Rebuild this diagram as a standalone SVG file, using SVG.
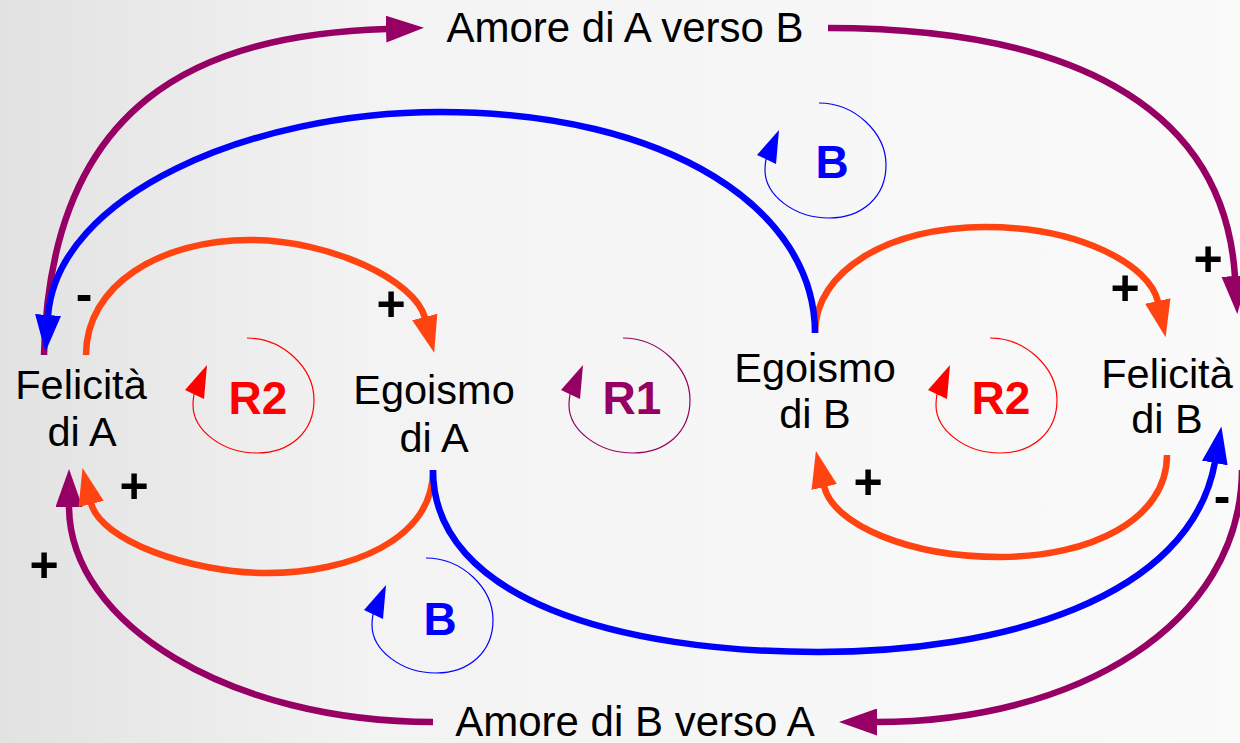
<svg xmlns="http://www.w3.org/2000/svg" xmlns:xlink="http://www.w3.org/1999/xlink" width="1240" height="743" viewBox="0 0 1240 743">
<style>
.node{font-family:"Liberation Sans",Arial,sans-serif;font-size:41.5px;fill:#000;text-anchor:middle}
.title{font-family:"Liberation Sans",Arial,sans-serif;font-size:42px;fill:#000;text-anchor:middle}
.loopl{font-family:"Liberation Sans",Arial,sans-serif;font-size:46px;font-weight:bold;text-anchor:middle}
.sign{font-family:"Liberation Sans",Arial,sans-serif;font-size:50px;font-weight:bold;fill:#000;text-anchor:middle;dominant-baseline:central}
.c{fill:none;stroke-width:6.5;stroke-linecap:butt}
.or{stroke:#ff4411}
.bl{stroke:#0000ff}
.pu{stroke:#960064}
</style>
<defs>
<linearGradient id="bg" x1="0" y1="0" x2="1" y2="0">
<stop offset="0" stop-color="#e2e2e2"/>
<stop offset="0.3" stop-color="#f3f3f3"/>
<stop offset="1" stop-color="#fafafa"/>
</linearGradient>
<marker id="ao" viewBox="0 0 37 26" refX="1" refY="13" markerWidth="37" markerHeight="26" markerUnits="userSpaceOnUse" orient="auto"><path d="M0,0 L37,13 L0,26 z" fill="#ff4411"/></marker>
<marker id="ab" viewBox="0 0 37 26" refX="1" refY="13" markerWidth="37" markerHeight="26" markerUnits="userSpaceOnUse" orient="auto"><path d="M0,0 L37,13 L0,26 z" fill="#0000ff"/></marker>
<marker id="ap" viewBox="0 0 38 27" refX="1" refY="13.5" markerWidth="38" markerHeight="27" markerUnits="userSpaceOnUse" orient="auto"><path d="M0,0 L38,13.5 L0,27 z" fill="#960064"/></marker>
<g id="loopShape">
<path d="M0,0 C36,0 67,30 67,62 C67,94 43,115 10,115 C-25,115 -54,92 -54,67 C-54,60 -53,55 -51,50" fill="none" stroke="currentColor" stroke-width="1.2"/>
<polygon points="-40,27 -62,52 -43,61" fill="currentColor"/>
</g>
</defs>
<rect x="0" y="0" width="1240" height="743" fill="url(#bg)"/>

<g id="connectors">
<path class="c pu" d="M44,355 C50,100 200,35 387,29" marker-end="url(#ap)"/>
<path class="c pu" d="M828,28 C1060,28 1224,100 1235,277" marker-end="url(#ap)"/>
<path class="c pu" d="M1242,470 C1241,625 1076,722 876,722" marker-end="url(#ap)"/>
<path class="c pu" d="M433,722 C232,722 69,625 69,506" marker-end="url(#ap)"/>

<path class="c or" d="M86,355 C86,285 160,240 250,240 C330,240 415,280 425,318" marker-end="url(#ao)"/>
<path class="c or" d="M433,470 C433,540 350,573 267,573 C190,573 100,540 91,503" marker-end="url(#ao)"/>
<path class="c or" d="M815,333 C815,270 890,227 985,227 C1080,227 1150,265 1158,302" marker-end="url(#ao)"/>
<path class="c or" d="M1167,455 C1167,520 1090,557 1000,557 C910,557 833,525 824,486" marker-end="url(#ao)"/>

<path class="c bl" d="M815,333 C815,210 670,112 440,112 C250,112 57,195 48,316" marker-end="url(#ab)"/>
<path class="c bl" d="M433,470 C433,600 620,652 818,652 C1000,652 1190,600 1215,462" marker-end="url(#ab)"/>

<text class="sign" x="84" y="294">-</text>
<text class="sign" x="391" y="304">+</text>
<text class="sign" x="134" y="486">+</text>
<text class="sign" x="44" y="565">+</text>
<text class="sign" x="868" y="482">+</text>
<text class="sign" x="1125" y="288">+</text>
<text class="sign" x="1208" y="259">+</text>
<text class="sign" x="1222" y="496">-</text>
</g>

<g id="node-amore-a-verso-b"><text class="title" x="625" y="42">Amore di A verso B</text></g>
<g id="node-amore-b-verso-a"><text class="title" x="635" y="736">Amore di B verso A</text></g>
<g id="node-felicita-a"><text class="node" x="81" y="399">Felicità</text><text class="node" x="82" y="446">di A</text></g>
<g id="node-egoismo-a"><text class="node" x="434" y="404">Egoismo</text><text class="node" x="434" y="452">di A</text></g>
<g id="node-egoismo-b"><text class="node" x="815" y="382">Egoismo</text><text class="node" x="815" y="428">di B</text></g>
<g id="node-felicita-b"><text class="node" x="1167" y="388">Felicità</text><text class="node" x="1167" y="433">di B</text></g>

<g id="loop-r2-a"><use xlink:href="#loopShape" transform="translate(247,338)" style="color:#ff0000"/><text class="loopl" x="258" y="414" fill="#ff0000">R2</text></g>
<g id="loop-r1"><use xlink:href="#loopShape" transform="translate(623,338)" style="color:#960064"/><text class="loopl" x="632" y="414" fill="#960064">R1</text></g>
<g id="loop-r2-b"><use xlink:href="#loopShape" transform="translate(990,338)" style="color:#ff0000"/><text class="loopl" x="1001" y="414" fill="#ff0000">R2</text></g>
<g id="loop-b-top"><use xlink:href="#loopShape" transform="translate(819,103)" style="color:#0000ff"/><text class="loopl" x="832" y="178" fill="#0000ff">B</text></g>
<g id="loop-b-bottom"><use xlink:href="#loopShape" transform="translate(426,558)" style="color:#0000ff"/><text class="loopl" x="440" y="635" fill="#0000ff">B</text></g>
</svg>
